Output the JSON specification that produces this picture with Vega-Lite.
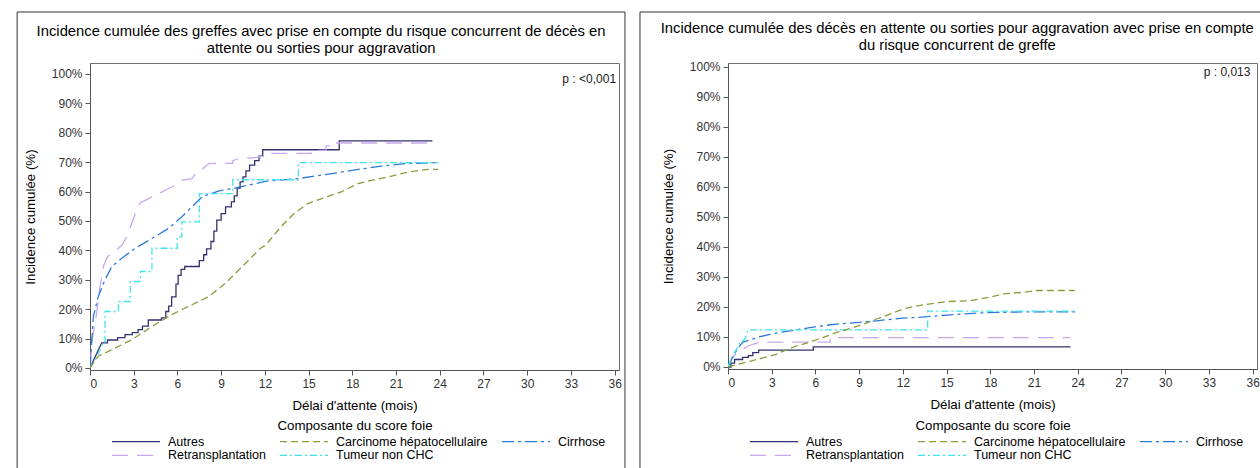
{
"$schema": "https://vega.github.io/schema/vega-lite/v6.json",
"background": "white",
"padding": {"left": 16, "top": 10, "right": 0, "bottom": 0},
"spacing": 12,
"data": {"values": [
{"s":"L","g":"Autres","t":0,"p":0},{"s":"L","g":"Autres","t":0.8,"p":8.5},{"s":"L","g":"Autres","t":1.2,"p":8.5},{"s":"L","g":"Autres","t":1.2,"p":9.5},{"s":"L","g":"Autres","t":1.9,"p":9.5},{"s":"L","g":"Autres","t":1.9,"p":10.3},{"s":"L","g":"Autres","t":2.4,"p":10.3},{"s":"L","g":"Autres","t":2.4,"p":11.3},{"s":"L","g":"Autres","t":2.9,"p":11.3},{"s":"L","g":"Autres","t":2.9,"p":12},{"s":"L","g":"Autres","t":3.3,"p":12},{"s":"L","g":"Autres","t":3.3,"p":13},{"s":"L","g":"Autres","t":3.6,"p":13},{"s":"L","g":"Autres","t":3.6,"p":14.2},{"s":"L","g":"Autres","t":4.0,"p":14.2},{"s":"L","g":"Autres","t":4.0,"p":16.3},{"s":"L","g":"Autres","t":4.9,"p":16.3},{"s":"L","g":"Autres","t":4.9,"p":17},{"s":"L","g":"Autres","t":5.2,"p":17},{"s":"L","g":"Autres","t":5.2,"p":19.2},{"s":"L","g":"Autres","t":5.4,"p":19.2},{"s":"L","g":"Autres","t":5.4,"p":21},{"s":"L","g":"Autres","t":5.6,"p":21},{"s":"L","g":"Autres","t":5.6,"p":24.2},{"s":"L","g":"Autres","t":5.9,"p":24.2},{"s":"L","g":"Autres","t":5.9,"p":28.5},{"s":"L","g":"Autres","t":6.05,"p":28.5},{"s":"L","g":"Autres","t":6.05,"p":31.5},{"s":"L","g":"Autres","t":6.25,"p":31.5},{"s":"L","g":"Autres","t":6.25,"p":33.5},{"s":"L","g":"Autres","t":6.5,"p":33.5},{"s":"L","g":"Autres","t":6.5,"p":34.5},{"s":"L","g":"Autres","t":7.5,"p":34.5},{"s":"L","g":"Autres","t":7.5,"p":36.5},{"s":"L","g":"Autres","t":7.8,"p":36.5},{"s":"L","g":"Autres","t":7.8,"p":38.5},{"s":"L","g":"Autres","t":8.0,"p":38.5},{"s":"L","g":"Autres","t":8.0,"p":40.5},{"s":"L","g":"Autres","t":8.3,"p":40.5},{"s":"L","g":"Autres","t":8.3,"p":43},{"s":"L","g":"Autres","t":8.5,"p":43},{"s":"L","g":"Autres","t":8.5,"p":46.5},{"s":"L","g":"Autres","t":8.7,"p":46.5},{"s":"L","g":"Autres","t":8.7,"p":50.3},{"s":"L","g":"Autres","t":9.0,"p":50.3},{"s":"L","g":"Autres","t":9.0,"p":52.5},{"s":"L","g":"Autres","t":9.3,"p":52.5},{"s":"L","g":"Autres","t":9.3,"p":54.8},{"s":"L","g":"Autres","t":9.7,"p":54.8},{"s":"L","g":"Autres","t":9.7,"p":56.5},{"s":"L","g":"Autres","t":9.9,"p":56.5},{"s":"L","g":"Autres","t":9.9,"p":58.5},{"s":"L","g":"Autres","t":10.1,"p":58.5},{"s":"L","g":"Autres","t":10.1,"p":61.2},{"s":"L","g":"Autres","t":10.3,"p":61.2},{"s":"L","g":"Autres","t":10.3,"p":63.3},{"s":"L","g":"Autres","t":10.5,"p":63.3},{"s":"L","g":"Autres","t":10.5,"p":65},{"s":"L","g":"Autres","t":10.7,"p":65},{"s":"L","g":"Autres","t":10.7,"p":67},{"s":"L","g":"Autres","t":10.95,"p":67},{"s":"L","g":"Autres","t":10.95,"p":69},{"s":"L","g":"Autres","t":11.3,"p":69},{"s":"L","g":"Autres","t":11.3,"p":70.5},{"s":"L","g":"Autres","t":11.6,"p":70.5},{"s":"L","g":"Autres","t":11.6,"p":72},{"s":"L","g":"Autres","t":11.85,"p":72},{"s":"L","g":"Autres","t":11.85,"p":74.2},{"s":"L","g":"Autres","t":17.1,"p":74.2},{"s":"L","g":"Autres","t":17.1,"p":77.2},{"s":"L","g":"Autres","t":23.5,"p":77.2},
{"s":"L","g":"Retransplantation","t":0,"p":0},{"s":"L","g":"Retransplantation","t":0.15,"p":9.5},{"s":"L","g":"Retransplantation","t":0.45,"p":18.5},{"s":"L","g":"Retransplantation","t":0.7,"p":28},{"s":"L","g":"Retransplantation","t":0.95,"p":35},{"s":"L","g":"Retransplantation","t":1.2,"p":37.8},{"s":"L","g":"Retransplantation","t":1.7,"p":39.5},{"s":"L","g":"Retransplantation","t":2.2,"p":41.8},{"s":"L","g":"Retransplantation","t":2.5,"p":44.5},{"s":"L","g":"Retransplantation","t":2.85,"p":49},{"s":"L","g":"Retransplantation","t":3.2,"p":53.7},{"s":"L","g":"Retransplantation","t":3.45,"p":56.2},{"s":"L","g":"Retransplantation","t":4.0,"p":57.5},{"s":"L","g":"Retransplantation","t":4.5,"p":58.8},{"s":"L","g":"Retransplantation","t":5.2,"p":60.5},{"s":"L","g":"Retransplantation","t":5.9,"p":62.2},{"s":"L","g":"Retransplantation","t":6.3,"p":63.8},{"s":"L","g":"Retransplantation","t":7.0,"p":64.4},{"s":"L","g":"Retransplantation","t":7.3,"p":66.5},{"s":"L","g":"Retransplantation","t":7.6,"p":67},{"s":"L","g":"Retransplantation","t":7.9,"p":68.5},{"s":"L","g":"Retransplantation","t":8.2,"p":69.6},{"s":"L","g":"Retransplantation","t":9.8,"p":69.6},{"s":"L","g":"Retransplantation","t":9.8,"p":70.5},{"s":"L","g":"Retransplantation","t":10.2,"p":71.2},{"s":"L","g":"Retransplantation","t":11.1,"p":71.4},{"s":"L","g":"Retransplantation","t":12.0,"p":72},{"s":"L","g":"Retransplantation","t":12.4,"p":73},{"s":"L","g":"Retransplantation","t":15.2,"p":73},{"s":"L","g":"Retransplantation","t":15.2,"p":74},{"s":"L","g":"Retransplantation","t":16.2,"p":74},{"s":"L","g":"Retransplantation","t":16.2,"p":75.5},{"s":"L","g":"Retransplantation","t":16.6,"p":75.5},{"s":"L","g":"Retransplantation","t":16.6,"p":76.5},{"s":"L","g":"Retransplantation","t":23.5,"p":76.5},
{"s":"L","g":"Cirrhose","t":0,"p":0},{"s":"L","g":"Cirrhose","t":0.1,"p":8},{"s":"L","g":"Cirrhose","t":0.23,"p":17.5},{"s":"L","g":"Cirrhose","t":0.57,"p":24.3},{"s":"L","g":"Cirrhose","t":1.03,"p":30},{"s":"L","g":"Cirrhose","t":1.5,"p":34.5},{"s":"L","g":"Cirrhose","t":2.18,"p":37.3},{"s":"L","g":"Cirrhose","t":3.1,"p":40.7},{"s":"L","g":"Cirrhose","t":4.25,"p":44},{"s":"L","g":"Cirrhose","t":5.4,"p":47.5},{"s":"L","g":"Cirrhose","t":6.3,"p":51.4},{"s":"L","g":"Cirrhose","t":7.0,"p":54.8},{"s":"L","g":"Cirrhose","t":7.7,"p":58.2},{"s":"L","g":"Cirrhose","t":8.85,"p":60.2},{"s":"L","g":"Cirrhose","t":10.0,"p":61.2},{"s":"L","g":"Cirrhose","t":12.1,"p":63.5},{"s":"L","g":"Cirrhose","t":14.3,"p":64.4},{"s":"L","g":"Cirrhose","t":16.6,"p":66.1},{"s":"L","g":"Cirrhose","t":18.4,"p":67.5},{"s":"L","g":"Cirrhose","t":20.0,"p":68.6},{"s":"L","g":"Cirrhose","t":21.6,"p":69.5},{"s":"L","g":"Cirrhose","t":23.7,"p":69.8},
{"s":"L","g":"Tumeur non CHC","t":0,"p":0},{"s":"L","g":"Tumeur non CHC","t":0.5,"p":4},{"s":"L","g":"Tumeur non CHC","t":0.92,"p":9},{"s":"L","g":"Tumeur non CHC","t":1.03,"p":9},{"s":"L","g":"Tumeur non CHC","t":1.03,"p":19.2},{"s":"L","g":"Tumeur non CHC","t":1.95,"p":19.2},{"s":"L","g":"Tumeur non CHC","t":1.95,"p":22.6},{"s":"L","g":"Tumeur non CHC","t":2.76,"p":22.6},{"s":"L","g":"Tumeur non CHC","t":2.76,"p":29.4},{"s":"L","g":"Tumeur non CHC","t":3.45,"p":29.4},{"s":"L","g":"Tumeur non CHC","t":3.45,"p":32.8},{"s":"L","g":"Tumeur non CHC","t":4.25,"p":32.8},{"s":"L","g":"Tumeur non CHC","t":4.25,"p":40.7},{"s":"L","g":"Tumeur non CHC","t":5.98,"p":40.7},{"s":"L","g":"Tumeur non CHC","t":5.98,"p":44.5},{"s":"L","g":"Tumeur non CHC","t":6.3,"p":44.5},{"s":"L","g":"Tumeur non CHC","t":6.3,"p":49.7},{"s":"L","g":"Tumeur non CHC","t":7.5,"p":49.7},{"s":"L","g":"Tumeur non CHC","t":7.5,"p":59.3},{"s":"L","g":"Tumeur non CHC","t":9.8,"p":59.3},{"s":"L","g":"Tumeur non CHC","t":9.8,"p":64},{"s":"L","g":"Tumeur non CHC","t":14.3,"p":64},{"s":"L","g":"Tumeur non CHC","t":14.3,"p":69.8},{"s":"L","g":"Tumeur non CHC","t":23.9,"p":69.8},
{"s":"L","g":"Carcinome hépatocellulaire","t":0,"p":0},{"s":"L","g":"Carcinome hépatocellulaire","t":0.57,"p":4},{"s":"L","g":"Carcinome hépatocellulaire","t":1.5,"p":6.2},{"s":"L","g":"Carcinome hépatocellulaire","t":2.87,"p":9.6},{"s":"L","g":"Carcinome hépatocellulaire","t":4.25,"p":14.1},{"s":"L","g":"Carcinome hépatocellulaire","t":5.6,"p":18.1},{"s":"L","g":"Carcinome hépatocellulaire","t":7.0,"p":21.5},{"s":"L","g":"Carcinome hépatocellulaire","t":8.15,"p":24.3},{"s":"L","g":"Carcinome hépatocellulaire","t":9.3,"p":28.8},{"s":"L","g":"Carcinome hépatocellulaire","t":10.45,"p":34.5},{"s":"L","g":"Carcinome hépatocellulaire","t":11.7,"p":40.7},{"s":"L","g":"Carcinome hépatocellulaire","t":12.07,"p":41.8},{"s":"L","g":"Carcinome hépatocellulaire","t":13.1,"p":48},{"s":"L","g":"Carcinome hépatocellulaire","t":14.0,"p":52.5},{"s":"L","g":"Carcinome hépatocellulaire","t":14.95,"p":55.9},{"s":"L","g":"Carcinome hépatocellulaire","t":15.9,"p":57.6},{"s":"L","g":"Carcinome hépatocellulaire","t":17.25,"p":59.9},{"s":"L","g":"Carcinome hépatocellulaire","t":18.4,"p":62.7},{"s":"L","g":"Carcinome hépatocellulaire","t":19.3,"p":63.8},{"s":"L","g":"Carcinome hépatocellulaire","t":20.5,"p":65},{"s":"L","g":"Carcinome hépatocellulaire","t":21.9,"p":66.7},{"s":"L","g":"Carcinome hépatocellulaire","t":23.2,"p":67.5},{"s":"L","g":"Carcinome hépatocellulaire","t":23.9,"p":67.5},
{"s":"R","g":"Autres","t":0,"p":0},{"s":"R","g":"Autres","t":0.2,"p":0},{"s":"R","g":"Autres","t":0.2,"p":1.3},{"s":"R","g":"Autres","t":0.45,"p":1.3},{"s":"R","g":"Autres","t":0.45,"p":2.5},{"s":"R","g":"Autres","t":1.0,"p":2.5},{"s":"R","g":"Autres","t":1.0,"p":3.2},{"s":"R","g":"Autres","t":1.4,"p":3.2},{"s":"R","g":"Autres","t":1.4,"p":3.8},{"s":"R","g":"Autres","t":1.7,"p":3.8},{"s":"R","g":"Autres","t":1.7,"p":4.8},{"s":"R","g":"Autres","t":2.1,"p":4.8},{"s":"R","g":"Autres","t":2.1,"p":5.6},{"s":"R","g":"Autres","t":5.85,"p":5.6},{"s":"R","g":"Autres","t":5.85,"p":6.7},{"s":"R","g":"Autres","t":23.5,"p":6.7},
{"s":"R","g":"Retransplantation","t":0,"p":0},{"s":"R","g":"Retransplantation","t":0.23,"p":2.5},{"s":"R","g":"Retransplantation","t":0.57,"p":4.7},{"s":"R","g":"Retransplantation","t":0.9,"p":5.5},{"s":"R","g":"Retransplantation","t":1.38,"p":7},{"s":"R","g":"Retransplantation","t":1.7,"p":7.5},{"s":"R","g":"Retransplantation","t":2.2,"p":8.3},{"s":"R","g":"Retransplantation","t":7.0,"p":8.3},{"s":"R","g":"Retransplantation","t":7.0,"p":9.8},{"s":"R","g":"Retransplantation","t":23.5,"p":9.8},
{"s":"R","g":"Cirrhose","t":0,"p":0},{"s":"R","g":"Cirrhose","t":0.34,"p":3.6},{"s":"R","g":"Cirrhose","t":0.69,"p":6.4},{"s":"R","g":"Cirrhose","t":1.03,"p":8.3},{"s":"R","g":"Cirrhose","t":1.5,"p":9},{"s":"R","g":"Cirrhose","t":2.2,"p":10.1},{"s":"R","g":"Cirrhose","t":2.87,"p":10.9},{"s":"R","g":"Cirrhose","t":3.8,"p":11.7},{"s":"R","g":"Cirrhose","t":5.2,"p":12.8},{"s":"R","g":"Cirrhose","t":6.1,"p":13.5},{"s":"R","g":"Cirrhose","t":7.45,"p":14.3},{"s":"R","g":"Cirrhose","t":8.8,"p":14.8},{"s":"R","g":"Cirrhose","t":10.2,"p":15.4},{"s":"R","g":"Cirrhose","t":12.0,"p":16.3},{"s":"R","g":"Cirrhose","t":12.9,"p":16.5},{"s":"R","g":"Cirrhose","t":15.0,"p":17.3},{"s":"R","g":"Cirrhose","t":17.1,"p":18},{"s":"R","g":"Cirrhose","t":18.5,"p":18.2},{"s":"R","g":"Cirrhose","t":20.8,"p":18.4},{"s":"R","g":"Cirrhose","t":23.8,"p":18.4},
{"s":"R","g":"Tumeur non CHC","t":0,"p":0},{"s":"R","g":"Tumeur non CHC","t":0.23,"p":3},{"s":"R","g":"Tumeur non CHC","t":0.57,"p":5.8},{"s":"R","g":"Tumeur non CHC","t":0.8,"p":8},{"s":"R","g":"Tumeur non CHC","t":1.15,"p":9.2},{"s":"R","g":"Tumeur non CHC","t":1.38,"p":12.4},{"s":"R","g":"Tumeur non CHC","t":13.7,"p":12.4},{"s":"R","g":"Tumeur non CHC","t":13.7,"p":18.6},{"s":"R","g":"Tumeur non CHC","t":23.8,"p":18.6},
{"s":"R","g":"Carcinome hépatocellulaire","t":0,"p":0},{"s":"R","g":"Carcinome hépatocellulaire","t":0.57,"p":0.8},{"s":"R","g":"Carcinome hépatocellulaire","t":1.5,"p":1.9},{"s":"R","g":"Carcinome hépatocellulaire","t":2.4,"p":3},{"s":"R","g":"Carcinome hépatocellulaire","t":3.3,"p":4.2},{"s":"R","g":"Carcinome hépatocellulaire","t":3.8,"p":5.3},{"s":"R","g":"Carcinome hépatocellulaire","t":4.7,"p":7},{"s":"R","g":"Carcinome hépatocellulaire","t":5.6,"p":8.3},{"s":"R","g":"Carcinome hépatocellulaire","t":6.5,"p":9.8},{"s":"R","g":"Carcinome hépatocellulaire","t":7.45,"p":11.5},{"s":"R","g":"Carcinome hépatocellulaire","t":8.4,"p":12.8},{"s":"R","g":"Carcinome hépatocellulaire","t":9.3,"p":14.3},{"s":"R","g":"Carcinome hépatocellulaire","t":10.2,"p":16},{"s":"R","g":"Carcinome hépatocellulaire","t":11.1,"p":17.6},{"s":"R","g":"Carcinome hépatocellulaire","t":12.0,"p":19.3},{"s":"R","g":"Carcinome hépatocellulaire","t":12.5,"p":19.9},{"s":"R","g":"Carcinome hépatocellulaire","t":13.4,"p":20.7},{"s":"R","g":"Carcinome hépatocellulaire","t":15.0,"p":21.8},{"s":"R","g":"Carcinome hépatocellulaire","t":16.6,"p":22.1},{"s":"R","g":"Carcinome hépatocellulaire","t":18.0,"p":23.3},{"s":"R","g":"Carcinome hépatocellulaire","t":18.9,"p":24.4},{"s":"R","g":"Carcinome hépatocellulaire","t":20.3,"p":24.9},{"s":"R","g":"Carcinome hépatocellulaire","t":21.2,"p":25.5},{"s":"R","g":"Carcinome hépatocellulaire","t":23.8,"p":25.5}
]},
"hconcat": [
{
"title": {"text": ["Incidence cumulée des greffes avec prise en compte du risque concurrent de décès en", "attente ou sorties pour aggravation"], "offset": -44},
"width": 529, "height": 307,
"layer": [
{"data": {"values": [{"box": "L"}]},
"mark": {"type": "rect", "filled": false, "stroke": "#333", "strokeWidth": 1, "clip": false},
"encoding": {
"x": {"datum": -5.0, "type": "quantitative", "scale": {"domain": [0, 36.3], "nice": false, "zero": false}, "axis": {"values": [0,3,6,9,12,15,18,21,24,27,30,33,36], "title": "Délai d'attente (mois)"}},
"x2": {"datum": 36.71},
"y": {"datum": 121.04, "type": "quantitative", "scale": {"domain": [-0.7, 103.7], "nice": false, "zero": false}, "axis": {"values": [0,10,20,30,40,50,60,70,80,90,100], "tickCount": 11, "labelExpr": "datum.value + '%'", "labelOverlap": false, "title": "Incidence cumulée (%)"}},
"y2": {"datum": -38}}},
{"transform": [{"filter": "datum.s == 'L'"}],
"mark": {"type": "line", "strokeWidth": 1.3, "clip": true},
"encoding": {
"x": {"field": "t", "type": "quantitative", "scale": {"domain": [0, 36.3], "nice": false, "zero": false}, "axis": {"values": [0,3,6,9,12,15,18,21,24,27,30,33,36], "title": "Délai d'attente (mois)"}},
"y": {"field": "p", "type": "quantitative", "scale": {"domain": [-0.7, 103.7], "nice": false, "zero": false}, "axis": {"values": [0,10,20,30,40,50,60,70,80,90,100], "tickCount": 11, "labelExpr": "datum.value + '%'", "labelOverlap": false, "title": "Incidence cumulée (%)"}},
"color": {"field": "g", "type": "nominal", "scale": {"domain": ["Autres","Carcinome hépatocellulaire","Cirrhose","Retransplantation","Tumeur non CHC"], "range": ["#32326e","#8c9c3c","#2c7ad8","#c8a8ec","#3ee4ec"]}, "legend": {"orient": "none", "legendX": 15, "legendY": 356, "title": "Composante du score foie"}},
"strokeDash": {"field": "g", "type": "nominal", "scale": {"domain": ["Autres","Carcinome hépatocellulaire","Cirrhose","Retransplantation","Tumeur non CHC"], "range": [[1,0],[7,4],[12,4,3,4],[16,9],[7,3,2,3]]}, "legend": {"orient": "none", "legendX": 15, "legendY": 356, "title": "Composante du score foie"}},
"order": [{"field": "t", "type": "quantitative"}, {"field": "p", "type": "quantitative"}]
}},
{"data": {"values": [{"pv": "p : <0,001"}]},
"mark": {"type": "text", "align": "right", "baseline": "middle", "fontSize": 12, "color": "#222"},
"encoding": {
"x": {"datum": 36.1, "type": "quantitative", "scale": {"domain": [0, 36.3], "nice": false, "zero": false}, "axis": {"values": [0,3,6,9,12,15,18,21,24,27,30,33,36], "title": "Délai d'attente (mois)"}},
"y": {"datum": 98.3, "type": "quantitative", "scale": {"domain": [-0.7, 103.7], "nice": false, "zero": false}, "axis": {"values": [0,10,20,30,40,50,60,70,80,90,100], "tickCount": 11, "labelExpr": "datum.value + '%'", "labelOverlap": false, "title": "Incidence cumulée (%)"}},
"text": {"field": "pv"}}}
]
},
{
"title": {"text": ["Incidence cumulée des décès en attente ou sorties pour aggravation avec prise en compte", "du risque concurrent de greffe"], "offset": -41},
"width": 529, "height": 306,
"layer": [
{"data": {"values": [{"box": "R"}]},
"mark": {"type": "rect", "filled": false, "stroke": "#333", "strokeWidth": 1, "clip": false},
"encoding": {
"x": {"datum": -6.04, "type": "quantitative", "scale": {"domain": [0, 36.3], "nice": false, "zero": false}, "axis": {"values": [0,3,6,9,12,15,18,21,24,27,30,33,36], "title": "Délai d'attente (mois)"}},
"x2": {"datum": 37.5},
"y": {"datum": 118.33, "type": "quantitative", "scale": {"domain": [-0.67, 101.33], "nice": false, "zero": false}, "axis": {"values": [0,10,20,30,40,50,60,70,80,90,100], "tickCount": 11, "labelExpr": "datum.value + '%'", "labelOverlap": false, "title": "Incidence cumulée (%)"}},
"y2": {"datum": -38}}},
{"transform": [{"filter": "datum.s == 'R'"}],
"mark": {"type": "line", "strokeWidth": 1.3, "clip": true},
"encoding": {
"x": {"field": "t", "type": "quantitative", "scale": {"domain": [0, 36.3], "nice": false, "zero": false}, "axis": {"values": [0,3,6,9,12,15,18,21,24,27,30,33,36], "title": "Délai d'attente (mois)"}},
"y": {"field": "p", "type": "quantitative", "scale": {"domain": [-0.67, 101.33], "nice": false, "zero": false}, "axis": {"values": [0,10,20,30,40,50,60,70,80,90,100], "tickCount": 11, "labelExpr": "datum.value + '%'", "labelOverlap": false, "title": "Incidence cumulée (%)"}},
"color": {"field": "g", "type": "nominal", "scale": {"domain": ["Autres","Carcinome hépatocellulaire","Cirrhose","Retransplantation","Tumeur non CHC"], "range": ["#32326e","#8c9c3c","#2c7ad8","#c8a8ec","#3ee4ec"]}, "legend": {"orient": "none", "legendX": 15, "legendY": 356, "title": "Composante du score foie"}},
"strokeDash": {"field": "g", "type": "nominal", "scale": {"domain": ["Autres","Carcinome hépatocellulaire","Cirrhose","Retransplantation","Tumeur non CHC"], "range": [[1,0],[7,4],[12,4,3,4],[16,9],[7,3,2,3]]}, "legend": {"orient": "none", "legendX": 15, "legendY": 356, "title": "Composante du score foie"}},
"order": [{"field": "t", "type": "quantitative"}, {"field": "p", "type": "quantitative"}]
}},
{"data": {"values": [{"pv": "p : 0,013"}]},
"mark": {"type": "text", "align": "right", "baseline": "middle", "fontSize": 12, "color": "#222"},
"encoding": {
"x": {"datum": 35.85, "type": "quantitative", "scale": {"domain": [0, 36.3], "nice": false, "zero": false}, "axis": {"values": [0,3,6,9,12,15,18,21,24,27,30,33,36], "title": "Délai d'attente (mois)"}},
"y": {"datum": 98.3, "type": "quantitative", "scale": {"domain": [-0.67, 101.33], "nice": false, "zero": false}, "axis": {"values": [0,10,20,30,40,50,60,70,80,90,100], "tickCount": 11, "labelExpr": "datum.value + '%'", "labelOverlap": false, "title": "Incidence cumulée (%)"}},
"text": {"field": "pv"}}}
]
}
],
"resolve": {"scale": {"color": "independent", "strokeDash": "independent", "x": "independent", "y": "independent"}, "legend": {"color": "independent", "strokeDash": "independent"}},
"config": {
"font": "Liberation Sans",
"view": {"stroke": "#707070", "strokeWidth": 1},
"title": {"fontSize": 14.8, "fontWeight": "normal", "color": "#000", "anchor": "middle", "frame": "bounds", "lineHeight": 17},
"axis": {"grid": false, "domainColor": "#555", "tickColor": "#555", "labelColor": "#333", "titleColor": "#000", "titleFontWeight": "normal", "labelFontSize": 12, "titleFontSize": 13.3, "tickSize": 5},
"axisX": {"labelPadding": 3, "titlePadding": 9},
"axisY": {"labelPadding": 3, "titlePadding": 14},
"legend": {"columns": 3, "direction": "horizontal", "symbolType": "M0,0H8", "symbolSize": 144, "symbolStrokeWidth": 1.3, "labelFontSize": 12.5, "labelColor": "#000", "labelOffset": 49, "titleFontSize": 13.3, "titleFontWeight": "normal", "titleColor": "#000", "titleAnchor": "middle", "titlePadding": 2, "columnPadding": 7, "rowPadding": 0, "padding": 0}
}
}
